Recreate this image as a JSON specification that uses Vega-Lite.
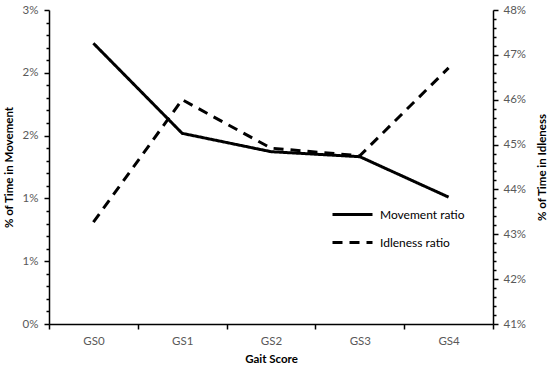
{
  "$schema": "https://vega.github.io/schema/vega-lite/v6.json",
  "width": 444,
  "height": 314,
  "autosize": {"type": "none"},
  "padding": {"left": 49, "top": 10, "right": 57, "bottom": 47},
  "background": "white",
  "config": {
    "view": {"stroke": null},
    "font": "Lato",
    "axis": {
      "grid": false,
      "domainColor": "#000000",
      "domainWidth": 1.5,
      "tickColor": "#000000",
      "tickWidth": 1.5,
      "labelColor": "#595959",
      "labelFont": "Lato",
      "labelFontSize": 11.5,
      "titleFont": "Lato",
      "titleFontSize": 11.5,
      "titleFontWeight": "bold",
      "titleColor": "#000000",
      "labelOverlap": false,
      "labelFlush": false
    },
    "legend": {"labelFont": "Lato"}
  },
  "data": {
    "values": [
      {"gait": "GS0", "movement": 0.02235, "idleness": 0.4327},
      {"gait": "GS1", "movement": 0.01518, "idleness": 0.4600},
      {"gait": "GS2", "movement": 0.01372, "idleness": 0.4492},
      {"gait": "GS3", "movement": 0.01332, "idleness": 0.4475},
      {"gait": "GS4", "movement": 0.01010, "idleness": 0.4671}
    ]
  },
  "encoding": {
    "x": {
      "field": "gait",
      "type": "nominal",
      "bandPosition": 0.5,
      "scale": {"type": "band", "paddingInner": 0, "paddingOuter": 0},
      "axis": {
        "title": "Gait Score",
        "labelAngle": 0,
        "tickBand": "extent",
        "tickSize": 5,
        "labelPadding": 6,
        "titlePadding": 7
      }
    }
  },
  "layer": [
    {
      "mark": {"type": "line", "color": "#000000", "strokeWidth": 3},
      "encoding": {
        "y": {
          "field": "movement",
          "type": "quantitative",
          "scale": {"domain": [0, 0.025], "nice": false, "zero": false},
          "axis": {
            "title": "% of Time in  Movement",
            "orient": "left",
            "values": [0,0.001,0.002,0.003,0.004,0.005,0.006,0.007,0.008,0.009,0.01,0.011,0.012,0.013,0.014,0.015,0.016,0.017,0.018,0.019,0.02,0.021,0.022,0.023,0.024,0.025],
            "labelExpr": "abs(datum.value*200 - round(datum.value*200)) < 0.000001 ? round(datum.value*100 + 0.000001) + '%' : ''",
            "tickSize": {"condition": {"test": "abs(datum.value*200 - round(datum.value*200)) < 0.000001", "value": 5}, "value": 3},
            "labelPadding": 6,
            "titlePadding": 8
          }
        },
        "strokeDash": {
          "datum": "Movement ratio",
          "type": "nominal",
          "scale": {"domain": ["Movement ratio", "Idleness ratio"], "range": [[1, 0], [10, 7]]},
          "legend": {
            "title": null,
            "orient": "none",
            "legendX": 282,
            "legendY": 183,
            "symbolType": "stroke",
            "symbolSize": 1600,
            "symbolStrokeWidth": 3,
            "symbolStrokeColor": "#000000",
            "labelFontSize": 12,
            "labelColor": "#000000",
            "rowPadding": -13,
            "labelOffset": 6
          }
        }
      }
    },
    {
      "mark": {"type": "line", "color": "#000000", "strokeWidth": 3},
      "encoding": {
        "y": {
          "field": "idleness",
          "type": "quantitative",
          "scale": {"domain": [0.41, 0.48], "nice": false, "zero": false},
          "axis": {
            "title": "% of Time in Idleness",
            "orient": "right",
            "titleAngle": 270,
            "values": [0.41,0.412,0.414,0.416,0.418,0.42,0.422,0.424,0.426,0.428,0.43,0.432,0.434,0.436,0.438,0.44,0.442,0.444,0.446,0.448,0.45,0.452,0.454,0.456,0.458,0.46,0.462,0.464,0.466,0.468,0.47,0.472,0.474,0.476,0.478,0.48],
            "labelExpr": "abs(datum.value*100 - round(datum.value*100)) < 0.000001 ? round(datum.value*100) + '%' : ''",
            "tickSize": {"condition": {"test": "abs(datum.value*100 - round(datum.value*100)) < 0.000001", "value": 5}, "value": 3},
            "labelPadding": 5,
            "titlePadding": 22
          }
        },
        "strokeDash": {"datum": "Idleness ratio", "type": "nominal"}
      }
    }
  ],
  "resolve": {"scale": {"y": "independent"}}
}
